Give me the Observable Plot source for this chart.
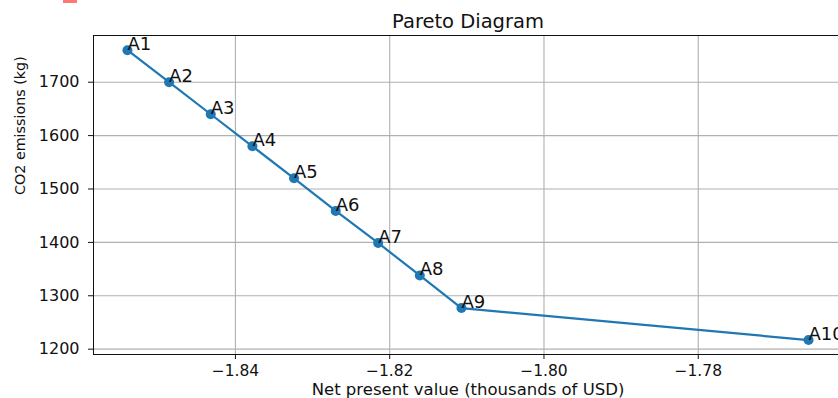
<!DOCTYPE html>
<html>
<head>
<meta charset="utf-8">
<script src="https://cdn.jsdelivr.net/npm/d3@7"></script>
<script src="https://cdn.jsdelivr.net/npm/@observablehq/plot@0.6"></script>
<style>
  body { margin: 0; background: #fff; }
  #chart { position: relative; width: 838px; height: 398px; overflow: hidden; }
  #chart .tab { position: absolute; left: 63px; top: 0; width: 14px; height: 3px; background: #f77; }
</style>
</head>
<body>
<div id="chart"><div class="tab"></div></div>
<script>
// Alternatives on the Pareto front
const labels = ["A1", "A2", "A3", "A4", "A5", "A6", "A7", "A8", "A9", "A10"];
const npv = [-1.8540, -1.8486, -1.8432, -1.8378, -1.8324, -1.8270, -1.8215, -1.8161, -1.8107, -1.7657];
const co2 = [1760, 1700, 1640, 1580, 1520, 1459, 1399, 1338, 1277, 1217];

const xTicks = [-1.84, -1.82, -1.80, -1.78];
const yTicks = [1200, 1300, 1400, 1500, 1600, 1700];

const title = "Pareto Diagram";
const xLabel = "Net present value (thousands of USD)";
const yLabel = "CO2 emissions (kg)";

const points = labels.map((label, i) => ({label, npv: npv[i], co2: co2[i]}));

const blue = "#1f77b4";
const grid = {stroke: "#b0b0b0", strokeOpacity: 1, strokeWidth: 1.1};

const plot = Plot.plot({
  width: 838,
  height: 398,
  marginLeft: 93,
  marginRight: -4,
  marginTop: 35,
  marginBottom: 44,
  style: {fontFamily: "DejaVu Sans", color: "#111", background: "white", overflow: "visible"},
  x: {domain: [-1.8584, -1.7613]},
  y: {domain: [1190, 1787.5]},
  marks: [
    Plot.gridX(xTicks, grid),
    Plot.gridY(yTicks, grid),
    Plot.axisX(xTicks, {tickSize: 5, tickPadding: 5, fontSize: 15.5, tickFormat: d3.format(".2f"), label: null}),
    Plot.axisY(yTicks, {tickSize: 5, tickPadding: 9, fontSize: 16, tickFormat: d3.format("d"), label: null}),
    Plot.line(points, {x: "npv", y: "co2", stroke: blue, strokeWidth: 2.2}),
    Plot.dot(points, {x: "npv", y: "co2", r: 5, fill: blue, stroke: null}),
    Plot.text(points, {x: "npv", y: "co2", text: "label", textAnchor: "start", lineAnchor: "bottom", fontSize: 18, fill: "#111"}),
    Plot.frame({stroke: "#111", strokeWidth: 1}),
    Plot.text([title], {text: d => d, frameAnchor: "top", lineAnchor: "bottom", dy: -8, fontSize: 19.5, fill: "#111"}),
    Plot.text([xLabel], {text: d => d, frameAnchor: "bottom", lineAnchor: "bottom", dy: 40, fontSize: 16.5, fill: "#111"}),
    Plot.text([yLabel], {text: d => d, frameAnchor: "left", rotate: -90, dx: -73, lineAnchor: "middle", fontSize: 14.3, fill: "#111"})
  ]
});

document.getElementById("chart").appendChild(plot);
</script>
</body>
</html>
